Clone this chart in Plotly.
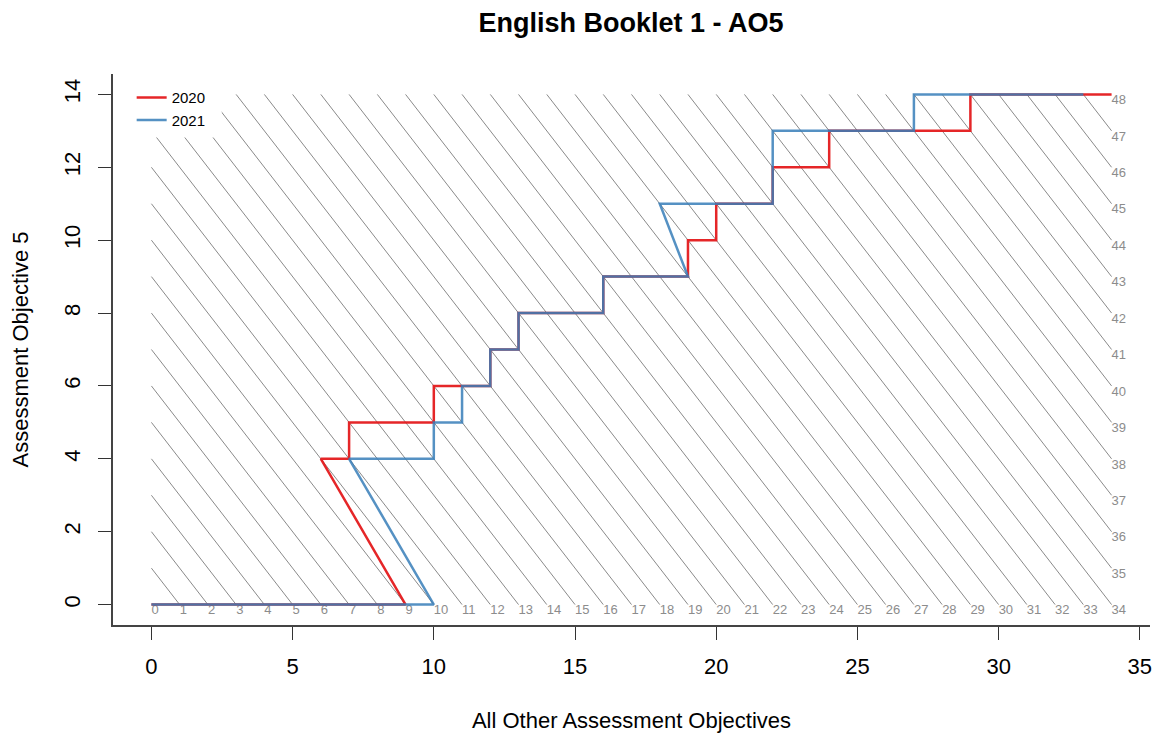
import plotly.graph_objects as go

# maximum marks on each axis
max_other = 34
max_ao5 = 14
totals = list(range(0, 49))

# 2020 boundary path (other objectives, AO5)
other_2020 = [0, 1, 2, 3, 4, 5, 6, 7, 8, 9, 6, 7, 7, 8, 9, 10, 10, 11, 12, 12, 13, 13, 14, 15, 16,
              16, 17, 18, 19, 19, 20, 20, 21, 22, 22, 23, 24, 24, 25, 26, 27, 28, 29, 29, 30, 31, 32, 33, 34]
ao5_2020 = [0, 0, 0, 0, 0, 0, 0, 0, 0, 0, 4, 4, 5, 5, 5, 5, 6, 6, 6, 7, 7, 8, 8, 8, 8,
            9, 9, 9, 9, 10, 10, 11, 11, 11, 12, 12, 12, 13, 13, 13, 13, 13, 13, 14, 14, 14, 14, 14, 14]

# 2021 boundary path
other_2021 = [0, 1, 2, 3, 4, 5, 6, 7, 8, 9, 10, 7, 8, 9, 10, 10, 11, 11, 12, 12, 13, 13, 14, 15, 16,
              16, 17, 18, 19, 18, 19, 20, 21, 22, 22, 22, 23, 24, 25, 26, 27, 27, 28, 29, 30, 31, 32, 33]
ao5_2021 = [0, 0, 0, 0, 0, 0, 0, 0, 0, 0, 0, 4, 4, 4, 4, 5, 5, 6, 6, 7, 7, 8, 8, 8, 8,
            9, 9, 9, 9, 11, 11, 11, 11, 11, 12, 13, 13, 13, 13, 13, 13, 14, 14, 14, 14, 14, 14, 14]

FONT = "Liberation Sans, Arial, Helvetica, sans-serif"

# iso-total diagonals x + y = k
diag_x, diag_y, lab_x, lab_y, lab_t = [], [], [], [], []
for k in totals:
    x0 = max(0, k - max_ao5)
    x1 = min(k, max_other)
    diag_x += [x0, x1, None]
    diag_y += [k - x0, k - x1, None]
    lab_x.append(x1)
    lab_y.append(k - x1)
    lab_t.append(str(k))

fig = go.Figure()

fig.add_trace(go.Scatter(
    x=diag_x, y=diag_y, mode="lines",
    line=dict(color="#8a8a8a", width=1),
    showlegend=False, hoverinfo="skip"
))

fig.add_trace(go.Scatter(
    x=lab_x, y=lab_y, mode="text", text=lab_t,
    textposition="bottom right",
    textfont=dict(family=FONT, size=13, color="#8c8c8c"),
    showlegend=False, hoverinfo="skip"
))

fig.add_trace(go.Scatter(
    x=other_2020, y=ao5_2020, mode="lines", name="2020",
    line=dict(color="rgba(228,26,28,0.95)", width=2.5)
))

fig.add_trace(go.Scatter(
    x=other_2021, y=ao5_2021, mode="lines", name="2021",
    line=dict(color="rgba(55,126,184,0.85)", width=2.5)
))

# white box behind the legend, like R's legend background
fig.add_shape(type="rect", xref="x", yref="y",
              x0=-1.3, x1=2.49, y0=12.82, y1=14.52,
              fillcolor="white", line=dict(width=0), layer="above")

fig.update_layout(
    width=1157, height=737,
    margin=dict(l=113, r=7, t=74, b=112),
    paper_bgcolor="white", plot_bgcolor="white",
    font=dict(family=FONT, color="black"),
    title=dict(text="<b>English Booklet 1 - AO5</b>", x=631 / 1157, xanchor="center",
               y=1 - 23 / 737, yanchor="middle", font=dict(size=27)),
    legend=dict(x=0.018, y=0.987, xanchor="left", yanchor="top",
                bgcolor="rgba(0,0,0,0)", font=dict(size=15), tracegroupgap=0),
    showlegend=True,
)

fig.update_xaxes(
    range=[-1.36, 35.36], showgrid=False, zeroline=False, automargin=False,
    showline=True, linecolor="#444", linewidth=2,
    tickmode="array", tickvals=[0, 5, 10, 15, 20, 25, 30, 35],
    ticks="outside", ticklen=13, tickcolor="#333", tickwidth=1,
    ticklabelstandoff=8, tickfont=dict(size=22),
    title=dict(text="All Other Assessment Objectives", font=dict(size=22), standoff=34),
)

fig.update_yaxes(
    range=[-0.56, 14.56], showgrid=False, zeroline=False, automargin=False,
    showline=True, linecolor="#444", linewidth=2,
    tickmode="array", tickvals=[0, 2, 4, 6, 8, 10, 12, 14],
    ticks="outside", ticklen=13, tickcolor="#333", tickwidth=1,
    tickangle=-90, ticklabelstandoff=9, tickfont=dict(size=22),
    title=dict(text="Assessment Objective 5", font=dict(size=22), standoff=26),
)

# drop the default page margin so the figure fills the window exactly
fig.write_html("out.html", config={"displayModeBar": False},
               post_script="document.body.style.margin='0';document.body.style.overflow='hidden';")
